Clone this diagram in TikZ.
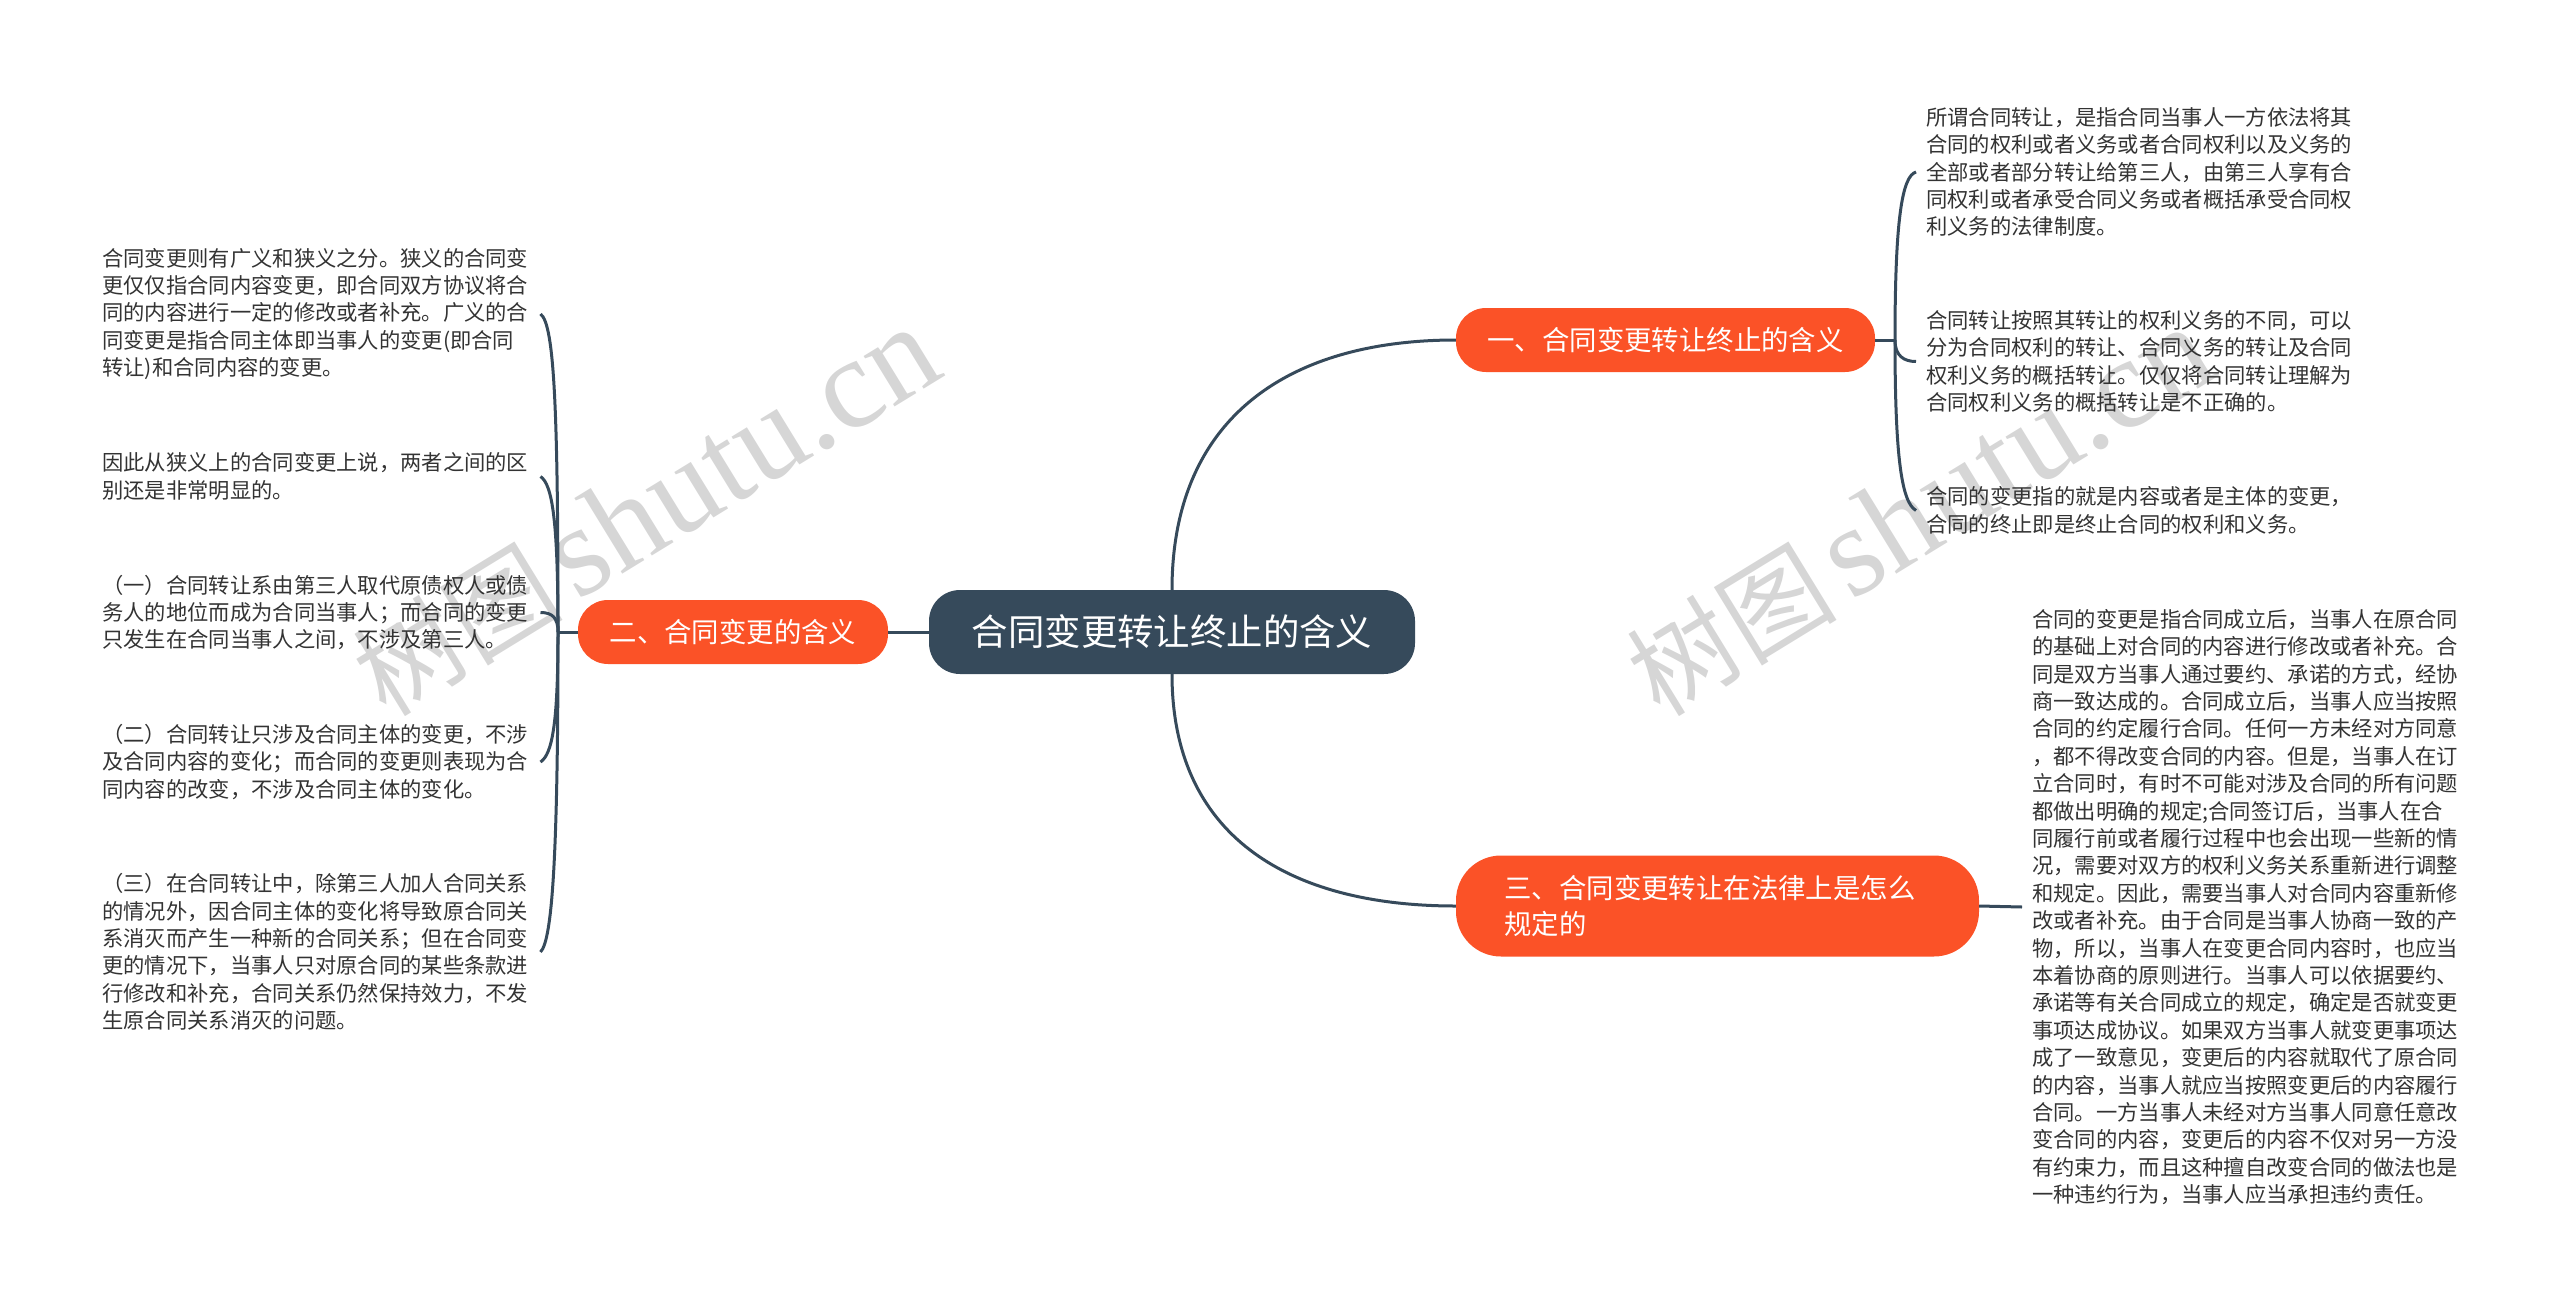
\documentclass[tikz,border=0pt]{standalone}
\usepackage{fontspec}
\setmainfont{Noto Sans CJK SC}
\newfontfamily\markfont{Liberation Serif}
\definecolor{slate}{HTML}{364A5B}
\definecolor{flame}{HTML}{FB5227}
\definecolor{inktext}{HTML}{333333}
\definecolor{markgray}{HTML}{D6D6D6}

\begin{document}
\begin{tikzpicture}[
	x=1pt,y=-1pt,
	rootnode/.style={fill=slate,text=white,rounded corners=31pt,inner sep=0pt,font=\fontsize{36.4}{44}\selectfont},
	topicnode/.style={fill=flame,text=white,rounded corners=30pt,inner sep=0pt,font=\fontsize{27.4}{36}\selectfont},
	leafnode/.style={text=inktext,text width=428pt,inner xsep=10pt,inner ysep=0pt,align=left,font=\fontsize{21.3}{27.4}\selectfont},
	markword/.style={text=markgray,rotate=31.5,inner sep=0pt,font=\fontsize{105}{120}\selectfont},
	linkline/.style={draw=slate,line width=3pt},
	]
\useasboundingbox (0,0) rectangle (2560,1309);

\node[markword] (markleft) at (646,512) {树图\hspace{14pt}{\markfont\fontsize{129}{120}\selectfont shutu.cn}};
\node[markword] (markright) at (1920,512) {树图\hspace{14pt}{\markfont\fontsize{129}{120}\selectfont shutu.cn}};

\node[rootnode,minimum width=486pt,minimum height=84pt] (root) at (1172,632) {合同变更转让终止的含义};
\node[topicnode,minimum width=419pt,minimum height=64pt] (one) at (1665.5,340) {一、合同变更转让终止的含义};
\node[topicnode,minimum width=310pt,minimum height=64pt] (two) at (733,632) {二、合同变更的含义};
\node[topicnode,rounded corners=45pt,minimum height=101pt,text width=426pt,inner xsep=48.5pt,align=left] (three) at (1717.5,906) {三、合同变更转让在法律上是怎么\\规定的};

\node[leafnode,anchor=east] (twoa) at (540.5,314) {合同变更则有广义和狭义之分。狭义的合同变\\更仅仅指合同内容变更，即合同双方协议将合\\同的内容进行一定的修改或者补充。广义的合\\同变更是指合同主体即当事人的变更(即合同\\转让)和合同内容的变更。};
\node[leafnode,anchor=east] (twob) at (540.5,476.5) {因此从狭义上的合同变更上说，两者之间的区\\别还是非常明显的。};
\node[leafnode,anchor=east] (twoc) at (540.5,612.5) {（一）合同转让系由第三人取代原债权人或债\\务人的地位而成为合同当事人；而合同的变更\\只发生在合同当事人之间，不涉及第三人。};
\node[leafnode,anchor=east] (twod) at (540.5,762) {（二）合同转让只涉及合同主体的变更，不涉\\及合同内容的变化；而合同的变更则表现为合\\同内容的改变，不涉及合同主体的变化。};
\node[leafnode,anchor=east] (twoe) at (540.5,952) {（三）在合同转让中，除第三人加人合同关系\\的情况外，因合同主体的变化将导致原合同关\\系消灭而产生一种新的合同关系；但在合同变\\更的情况下，当事人只对原合同的某些条款进\\行修改和补充，合同关系仍然保持效力，不发\\生原合同关系消灭的问题。};

\node[leafnode,anchor=west] (onea) at (1916,172) {所谓合同转让，是指合同当事人一方依法将其\\合同的权利或者义务或者合同权利以及义务的\\全部或者部分转让给第三人，由第三人享有合\\同权利或者承受合同义务或者概括承受合同权\\利义务的法律制度。};
\node[leafnode,anchor=west] (oneb) at (1916,361.5) {合同转让按照其转让的权利义务的不同，可以\\分为合同权利的转让、合同义务的转让及合同\\权利义务的概括转让。仅仅将合同转让理解为\\合同权利义务的概括转让是不正确的。};
\node[leafnode,anchor=west] (onec) at (1916,510.5) {合同的变更指的就是内容或者是主体的变更，\\合同的终止即是终止合同的权利和义务。};

\node[leafnode,anchor=west] (threea) at (2022,907) {合同的变更是指合同成立后，当事人在原合同\\的基础上对合同的内容进行修改或者补充。合\\同是双方当事人通过要约、承诺的方式，经协\\商一致达成的。合同成立后，当事人应当按照\\合同的约定履行合同。任何一方未经对方同意\\，都不得改变合同的内容。但是，当事人在订\\立合同时，有时不可能对涉及合同的所有问题\\都做出明确的规定;合同签订后，当事人在合\\同履行前或者履行过程中也会出现一些新的情\\况，需要对双方的权利义务关系重新进行调整\\和规定。因此，需要当事人对合同内容重新修\\改或者补充。由于合同是当事人协商一致的产\\物，所以，当事人在变更合同内容时，也应当\\本着协商的原则进行。当事人可以依据要约、\\承诺等有关合同成立的规定，确定是否就变更\\事项达成协议。如果双方当事人就变更事项达\\成了一致意见，变更后的内容就取代了原合同\\的内容，当事人就应当按照变更后的内容履行\\合同。一方当事人未经对方当事人同意任意改\\变合同的内容，变更后的内容不仅对另一方没\\有约束力，而且这种擅自改变合同的做法也是\\一种违约行为，当事人应当承担违约责任。};

\coordinate (twojoin) at (558,632);
\coordinate (onejoin) at (1895,340);

% main branches
\draw[linkline] (root.north) .. controls +(0,-170) and +(-170,0) .. (one.west);
\draw[linkline] (root.south) .. controls +(0,160) and +(-170,0) .. (three.west);
\draw[linkline] (root.west) -- (two.east);

% left side
\draw[linkline] (two.west) -- (twojoin);
\draw[linkline] (twojoin) .. controls +(0,-220) and +(14,10) .. (twoa.east);
\draw[linkline] (twojoin) .. controls +(0,-110) and +(12,8) .. (twob.east);
\draw[linkline] (twojoin) .. controls +(0,-14) and +(12,0) .. (twoc.east);
\draw[linkline] (twojoin) .. controls +(0,90) and +(12,-8) .. (twod.east);
\draw[linkline] (twojoin) .. controls +(0,220) and +(12,-12) .. (twoe.east);

% right side
\draw[linkline] (one.east) -- (onejoin);
\draw[linkline] (onejoin) .. controls +(0,-120) and +(-14,4) .. (onea.west);
\draw[linkline] (onejoin) .. controls +(0,16) and +(-12,0) .. (oneb.west);
\draw[linkline] (onejoin) .. controls +(0,120) and +(-14,-8) .. (onec.west);
\draw[linkline] (three.east) -- (threea.west);
\end{tikzpicture}
\end{document}
